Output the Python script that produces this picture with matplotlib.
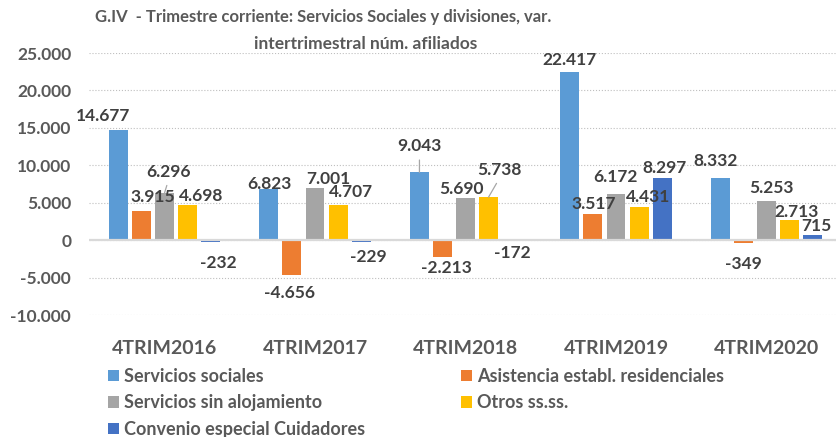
import numpy as np
import matplotlib.pyplot as plt

plt.rcParams['font.family'] = ['Lato', 'DejaVu Sans']
plt.rcParams['font.weight'] = 'bold'

# datos: variación intertrimestral del número de afiliados
categorias = ['4TRIM2016', '4TRIM2017', '4TRIM2018', '4TRIM2019', '4TRIM2020']
servicios_sociales = [14677, 6823, 9043, 22417, 8332]
asistencia_residencial = [3915, -4656, -2213, 3517, -349]
sin_alojamiento = [6296, 7001, 5690, 6172, 5253]
otros_ssss = [4698, 4707, 5738, 4431, 2713]
convenio_cuidadores = [-232, -229, -172, 8297, 715]

nombres = ['Servicios sociales', 'Asistencia establ. residenciales',
           'Servicios sin alojamiento', 'Otros ss.ss.',
           'Convenio especial Cuidadores']
colores = ['#5B9BD5', '#ED7D31', '#A5A5A5', '#FFC000', '#4472C4']
series = [servicios_sociales, asistencia_residencial, sin_alojamiento,
          otros_ssss, convenio_cuidadores]

# desplazamiento de las etiquetas (px) respecto al extremo de cada barra
desplaz = [
    [(-15, 14), (0, 5), (0, 26), (0, 12), (-5, 17)],
    [(11, 14), (-2, -18), (4, -11), (1, 10), (0, -21)],
    [(4, 21), (13, 9), (-4, 9), (-1, 17), (5, 13)],
    [(14, 9), (13, 13), (11, 27), (9, 10), (7, 8)],
    [(8, -21), (7, -15), (1, -12), (2, 10), (4, 9)],
]
# etiquetas con línea guía (serie, categoría)
con_guia = [(2, 0), (0, 2), (3, 2)]

def fmt(v):
    return f'{v:,}'.replace(',', '.')

gris_txt = '#595959'

fig = plt.figure(figsize=(8.37, 4.37), dpi=100)
ax = fig.add_axes([89.25 / 837, 1 - 315 / 437, 752.5 / 837, 262 / 437])

x = np.arange(len(categorias))
ancho = 0.126
paso = 0.153

for i, (vals, nombre, color) in enumerate(zip(series, nombres, colores)):
    pos = x + (i - 2) * paso
    ax.bar(pos, vals, width=ancho, color=color, label=nombre, zorder=2)
    for j, v in enumerate(vals):
        dx, dy = desplaz[i][j]
        props = None
        if (i, j) in con_guia:
            props = dict(arrowstyle='-', color='#a6a6a6', lw=0.9,
                         relpos=(0.5, 0), shrinkA=2, shrinkB=0)
        ax.annotate(fmt(v), xy=(pos[j], v), xytext=(dx, dy),
                    textcoords='offset pixels', ha='center', va='center',
                    fontsize=12.5, fontweight='bold', color='#404040',
                    arrowprops=props, zorder=4)

ax.set_xlim(-0.5, 4.5)
ax.set_ylim(-10000, 25000)
ax.set_yticks(np.arange(-10000, 25001, 5000))
ax.set_yticklabels([fmt(t) for t in range(-10000, 25001, 5000)])
ax.set_xticks(x)
ax.set_xticklabels(categorias)
ax.tick_params(axis='both', length=0, colors=gris_txt, labelsize=12.5)
ax.tick_params(axis='x', pad=18, labelsize=14)
ax.tick_params(axis='y', pad=13)
for s in ax.spines.values():
    s.set_visible(False)
ax.grid(axis='y', linestyle=':', color='#bfbfbf', linewidth=0.8, zorder=0)
ax.axhline(0, color='#d9d9d9', linewidth=1.6, zorder=3)

# título en dos líneas
fig.text(95 / 837, 1 - 17 / 437,
         'G.IV  - Trimestre corriente: Servicios Sociales y divisiones, var.',
         ha='left', va='center', fontsize=12, fontweight='bold', color=gris_txt)
fig.text(366 / 837, 1 - 44 / 437, 'intertrimestral núm. afiliados',
         ha='center', va='center', fontsize=12.5, fontweight='bold', color=gris_txt)

# leyenda: dos columnas, orden por filas
h, l = ax.get_legend_handles_labels()
orden = [0, 2, 4, 1, 3]
fig.legend([h[k] for k in orden], [l[k] for k in orden], ncol=2,
           loc='upper left', bbox_to_anchor=(108 / 837, 1 - 368 / 437),
           frameon=False, fontsize=13, labelcolor=gris_txt,
           handlelength=0.6, handleheight=0.6, handletextpad=0.3,
           labelspacing=0.52, columnspacing=5.3, borderaxespad=0, borderpad=0)

fig.savefig('out.png', dpi=100)
